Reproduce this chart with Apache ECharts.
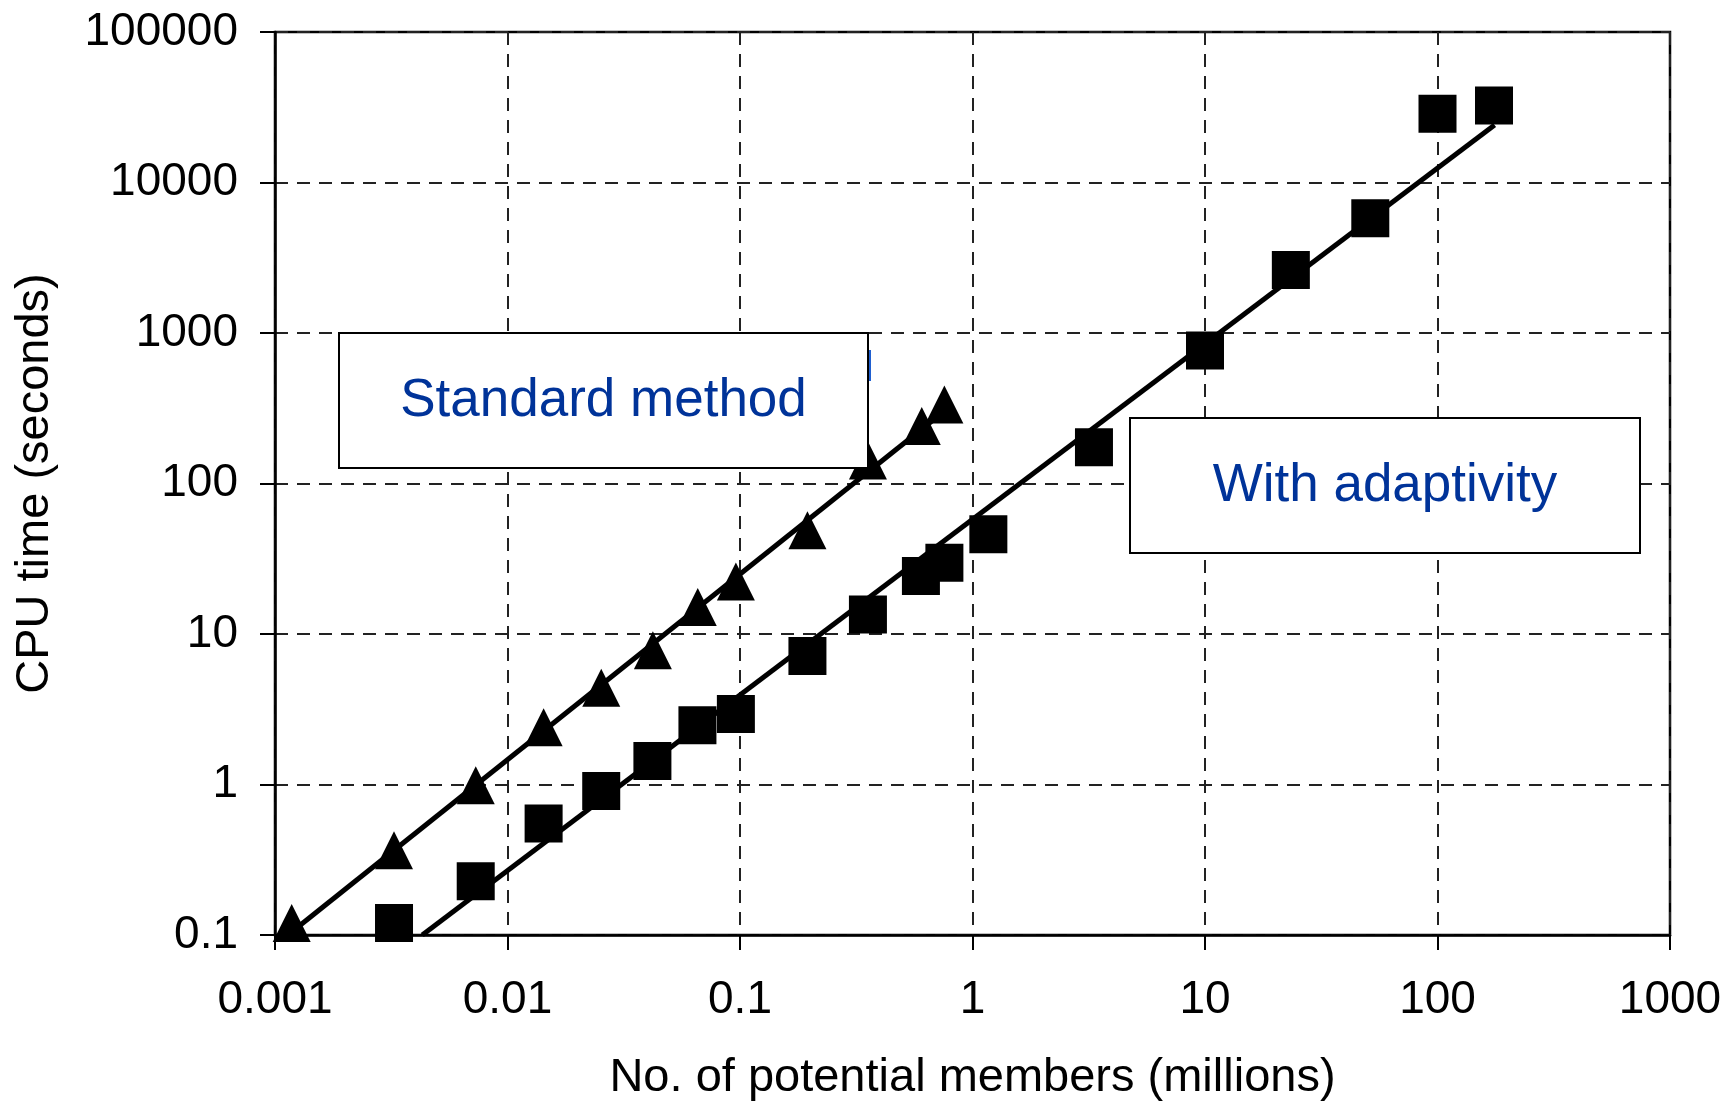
<!DOCTYPE html>
<html>
<head>
<meta charset="utf-8">
<script src="https://cdn.jsdelivr.net/npm/echarts@6/dist/echarts.min.js"></script>
<style>
html,body{margin:0;padding:0;background:#fff}
#c{width:1729px;height:1107px}
</style>
</head>
<body>
<div id="c"></div>
<script>
// ---- data ----
const xTickLabels = ['0.001', '0.01', '0.1', '1', '10', '100', '1000'];
const yTickLabels = ['0.1', '1', '10', '100', '1000', '10000', '100000'];

const standardX = [0.00118, 0.00325, 0.0073, 0.0143, 0.0253, 0.0422, 0.0658, 0.096, 0.195, 0.355, 0.605, 0.757];
const standardY = [0.12, 0.365, 0.99, 2.4, 4.4, 7.8, 15.1, 22.3, 49, 142, 241, 335];

const adaptiveX = [0.00325, 0.0073, 0.0143, 0.0253, 0.042, 0.0656, 0.096, 0.195, 0.355, 0.6, 0.757, 1.17, 3.33, 10, 23.4, 51.4, 100, 175];
const adaptiveY = [0.12, 0.228, 0.55, 0.905, 1.43, 2.48, 2.94, 7.14, 13.5, 24.3, 29.7, 46, 174, 766, 2620, 5780, 28600, 32500];

const standardTrendX = [0.00119, 0.757];
const standardTrendY = [0.106, 303];
const adaptiveTrendX = [0.0043, 176];
const adaptiveTrendY = [0.1, 24100];

const boxLabels = ['Standard method', 'With adaptivity'];
const xTitle = 'No. of potential members (millions)';
const yTitle = 'CPU time (seconds)';

// ---- chart ----
const FONT = '"Liberation Sans", Arial, sans-serif';
const zip = (a, b) => a.map((v, i) => [v, b[i]]);

const chart = echarts.init(document.getElementById('c'), null, {renderer: 'canvas'});

const gridLine = {show: true, lineStyle: {color: '#222', width: 2, type: [13, 9]}};

const option = {
  backgroundColor: '#fff',
  animation: false,
  grid: {
    left: 275, right: 59, top: 32, bottom: 172,
    containLabel: false, outerBoundsMode: 'none',
    show: true, borderColor: '#000', borderWidth: 2.5, backgroundColor: 'transparent'
  },
  xAxis: {
    type: 'log', logBase: 10, min: 0.001, max: 1000, splitNumber: 6,
    name: xTitle, nameLocation: 'middle', nameGap: 120,
    nameTextStyle: {fontFamily: FONT, fontSize: 47, color: '#000'},
    axisLine: {show: true, onZero: false, lineStyle: {color: '#000', width: 2.5}},
    axisTick: {show: true, inside: false, length: 15, lineStyle: {color: '#000', width: 2}},
    minorTick: {show: false},
    axisLabel: {
      margin: 42, fontFamily: FONT, fontSize: 46, color: '#000',
      formatter: v => xTickLabels[Math.round(Math.log10(v)) + 3]
    },
    splitLine: gridLine
  },
  yAxis: {
    type: 'log', logBase: 10, min: 0.1, max: 100000, splitNumber: 6,
    name: yTitle, nameLocation: 'middle', nameGap: 216,
    nameTextStyle: {fontFamily: FONT, fontSize: 47, color: '#000'},
    axisLine: {show: true, onZero: false, lineStyle: {color: '#000', width: 2.5}},
    axisTick: {show: true, inside: false, length: 15, lineStyle: {color: '#000', width: 2}},
    minorTick: {show: false},
    axisLabel: {
      margin: 37, fontFamily: FONT, fontSize: 46, color: '#000',
      formatter: v => yTickLabels[Math.round(Math.log10(v)) + 1]
    },
    splitLine: gridLine
  },
  series: [
    {
      type: 'line', data: zip(standardTrendX, standardTrendY), showSymbol: false, symbol: 'none',
      lineStyle: {color: '#000', width: 5, opacity: 1}, z: 2, clip: true, silent: true
    },
    {
      type: 'line', data: zip(adaptiveTrendX, adaptiveTrendY), showSymbol: false, symbol: 'none',
      lineStyle: {color: '#000', width: 5, opacity: 1}, z: 2, clip: true, silent: true
    },
    {
      type: 'scatter', data: zip(standardX, standardY), symbol: 'triangle', symbolSize: 38,
      itemStyle: {color: '#000', opacity: 1}, z: 3, clip: false
    },
    {
      type: 'scatter', data: zip(adaptiveX, adaptiveY), symbol: 'rect', symbolSize: 38,
      itemStyle: {color: '#000', opacity: 1}, z: 3, clip: false
    }
  ],
  graphic: {
    elements: [
      {type: 'rect', z: 100, zlevel: 0, shape: {x: 339, y: 333, width: 529, height: 135},
       style: {fill: '#fff', stroke: '#000', lineWidth: 2}},
      {type: 'text', z: 101, x: 603.5, y: 401,
       style: {text: boxLabels[0], font: '53px ' + FONT, fill: '#003399', textAlign: 'center', textVerticalAlign: 'middle'}},
      {type: 'line', z: 101, shape: {x1: 870, y1: 350, x2: 870, y2: 381},
       style: {stroke: '#1f5fd0', lineWidth: 2}},
      {type: 'rect', z: 100, shape: {x: 1130, y: 418, width: 510, height: 135},
       style: {fill: '#fff', stroke: '#000', lineWidth: 2}},
      {type: 'text', z: 101, x: 1385, y: 486,
       style: {text: boxLabels[1], font: '53px ' + FONT, fill: '#003399', textAlign: 'center', textVerticalAlign: 'middle'}}
    ]
  }
};

chart.setOption(option);
</script>
</body>
</html>
